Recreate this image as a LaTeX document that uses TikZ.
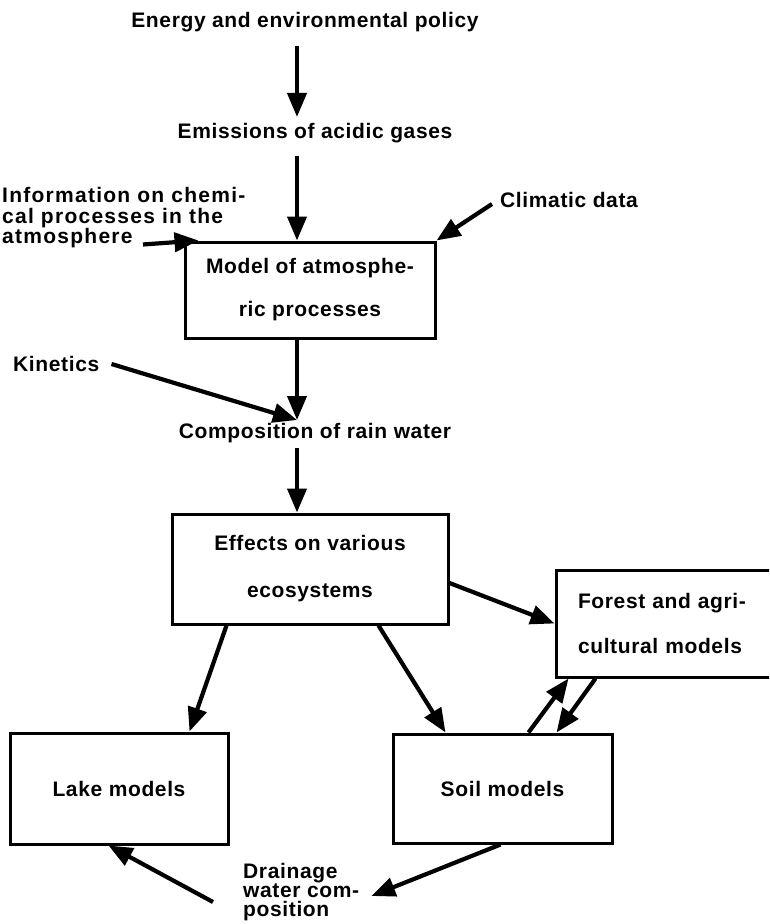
\documentclass[tikz,border=0pt]{standalone}
\usepackage{fontspec}
\setmainfont{Liberation Sans}[LetterSpace=3]
\usetikzlibrary{arrows.meta,calc}
\begin{document}
\begin{tikzpicture}[x=1pt,y=-1pt,
  lbl/.style={font=\fontsize{21}{20.5}\selectfont\bfseries, inner sep=0pt, align=left},
  boxnode/.style={draw, line width=3pt, inner sep=0pt, align=center},
  arr/.style={line width=4.2pt, -{Triangle[length=24pt,width=19pt]}}]
\useasboundingbox (0,0) rectangle (769,924);
\clip (0,0) rectangle (769,924);

% text labels
\node[lbl] (energy) at (305,22) {Energy and environmental policy};
\node[lbl] (emis) at (315,133) {Emissions of acidic gases};
\node[lbl, anchor=west, font=\fontsize{21}{20.5}\selectfont\bfseries\addfontfeature{LetterSpace=6}] (info) at (2,218) {Information on chemi-\\cal processes in the\\atmosphere};
\node[lbl, anchor=west] (clim) at (500,200) {Climatic data};
\node[lbl, anchor=west] (kin) at (13,364) {Kinetics};
\node[lbl] (comp) at (315,433) {Composition of rain water};
\node[lbl, font=\fontsize{21}{19}\selectfont\bfseries, anchor=west] (drain) at (243,892) {Drainage\\water com-\\position};
\coordinate (meet) at (297,420);

% boxes
\node[boxnode, minimum width=250, minimum height=96,
      font=\fontsize{21}{43}\selectfont\bfseries] (model) at (310,290) {Model of atmosphe-\\ric processes};
\node[boxnode, minimum width=276, minimum height=110,
      font=\fontsize{21}{47}\selectfont\bfseries] (effects) at (310,569) {Effects on various\\ecosystems};
\node[boxnode, minimum width=224, minimum height=107, inner xsep=22pt, text width=180pt, align=left,
      font=\fontsize{21}{45}\selectfont\bfseries] (forest) at (668,623.5) {Forest and agri-\\cultural models};
\node[boxnode, minimum width=218, minimum height=111,
      font=\fontsize{21}{20}\selectfont\bfseries] (lake) at (119,788.5) {Lake models};
\node[boxnode, minimum width=219, minimum height=109,
      font=\fontsize{21}{20}\selectfont\bfseries] (soil) at (502.5,788.5) {Soil models};

% connectors
\draw[arr, shorten <=14pt, shorten >=6pt] (energy.south -| meet) -- (emis.north -| meet);
\draw[arr, shorten <=13pt] (emis.south -| meet) -- (model.north -| meet);
\draw[arr] ($(info.south west)+(141,-4)$) -- ($(model.north west)+(15,0)$);
\draw[arr] ([xshift=-8pt,yshift=-4pt]clim.west) -- (model.north east);
\draw[arr] (model.south -| meet) -- (meet);
\draw[arr] ([xshift=12pt]kin.east) -- (meet);
\draw[arr, shorten <=5pt] (comp.south -| meet) -- (effects.north -| meet);
\draw[arr] ([yshift=-14pt]effects.east) -- (forest.west);
\draw[arr] ($(effects.south west)+(56,0)$) -- ($(lake.north east)+(-40,0)$);
\draw[arr] ($(effects.south west)+(208,0)$) -- ($(soil.north west)+(54,0)$);
\draw[arr] ($(soil.north west)+(137,0)$) -- ($(forest.south west)+(14,0)$);
\draw[arr] ($(forest.south west)+(41,0)$) -- ($(soil.north west)+(165,0)$);
\draw[arr] ($(soil.south west)+(109,0)$) -- ([xshift=12pt,yshift=-4pt]drain.east);
\draw[arr] ([xshift=-30pt,yshift=-10pt]drain.west) -- ($(lake.south west)+(100,0)$);
\end{tikzpicture}
\end{document}
